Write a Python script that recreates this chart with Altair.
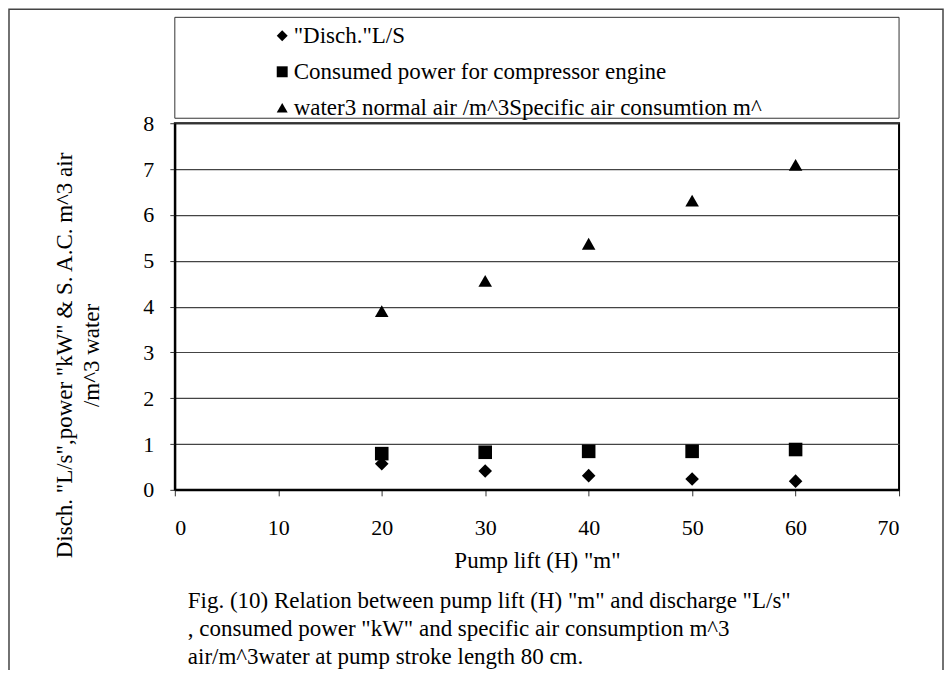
import altair as alt
import pandas as pd

# Data
lift = [20, 30, 40, 50, 60]
discharge = [0.57, 0.41, 0.31, 0.235, 0.19]
power = [0.79, 0.82, 0.84, 0.84, 0.88]
sac = [3.90, 4.56, 5.37, 6.31, 7.09]

series_names = [
    '"Disch."L/S',
    'Consumed power for compressor engine',
    'water3 normal air /m^3Specific air consumtion m^',
]
shapes = ["diamond", "square", "triangle-up"]

x_ticks = [0, 10, 20, 30, 40, 50, 60, 70]
y_ticks = [0, 1, 2, 3, 4, 5, 6, 7, 8]

caption_lines = [
    'Fig. (10) Relation between pump lift (H) "m" and discharge "L/s"',
    ', consumed power "kW" and specific air consumption m^3',
    'air/m^3water at pump stroke length 80 cm.',
]

rows = []
for name, vals in zip(series_names, [discharge, power, sac]):
    for h, v in zip(lift, vals):
        rows.append({"series": name, "H": h, "value": v})
df = pd.DataFrame(rows)
one = pd.DataFrame({"k": [0]})

FONT = "Liberation Serif"
W, H = 725, 367

points = alt.Chart(df).mark_point(filled=True, size=185, opacity=1, color="black").encode(
    x=alt.X("H:Q",
            scale=alt.Scale(domain=[0, 70], nice=False, zero=True),
            axis=alt.Axis(values=x_ticks, title='Pump lift (H) "m"', grid=False,
                          tickSize=6, tickColor="#333", labelPadding=22,
                          titlePadding=11, domainColor="black", domainWidth=2)),
    y=alt.Y("value:Q",
            scale=alt.Scale(domain=[0, 8], nice=False),
            axis=alt.Axis(values=y_ticks,
                          title=['Disch. "L/s",power "kW" & S. A.C. m^3 air', '/m^3 water'],
                          grid=True, gridColor="#444", gridWidth=1.2,
                          tickSize=5, tickColor="#333", labelPadding=16,
                          titleX=-110, titleY=232, titleAngle=270,
                          titleAlign="center", titleBaseline="middle",
                          titleLineHeight=27, titleFontSize=23,
                          domainColor="black", domainWidth=2)),
    shape=alt.Shape("series:N",
                    scale=alt.Scale(domain=series_names, range=shapes),
                    legend=alt.Legend(title=None, orient="none", legendX=96, legendY=-99,
                                      direction="vertical", symbolFillColor="black",
                                      symbolStrokeColor="black", symbolSize=120,
                                      rowPadding=12, labelLimit=720, labelOffset=0)),
)

legend_box = alt.Chart(one).mark_rect(fill=None, stroke="#333", strokeWidth=1).encode(
    x=alt.value(0), x2=alt.value(W), y=alt.value(-106), y2=alt.value(-5)
)

outer_box = alt.Chart(one).mark_rect(fill=None, stroke="#444", strokeWidth=1.5).encode(
    x=alt.value(-166), x2=alt.value(769), y=alt.value(-114), y2=alt.value(700)
)

caption = alt.Chart(one).mark_text(
    align="left", baseline="top", font=FONT, fontSize=23, lineHeight=28, color="black"
).encode(
    x=alt.value(13), y=alt.value(467), text=alt.value(caption_lines)
)

chart = alt.layer(outer_box, legend_box, points, caption).properties(
    width=W, height=H,
    autosize=alt.AutoSizeParams(type="none"),
    padding={"left": 167, "top": 115, "right": 45, "bottom": 180},
).configure_view(
    stroke="black", strokeWidth=2
).configure_axis(
    labelFont=FONT, titleFont=FONT, labelFontSize=22, titleFontSize=23,
    labelColor="black", titleColor="black", titleFontWeight="normal"
).configure_legend(
    labelFont=FONT, labelFontSize=23, labelColor="black"
)

chart.save("out.html", embed_options={"renderer": "svg", "actions": False})
